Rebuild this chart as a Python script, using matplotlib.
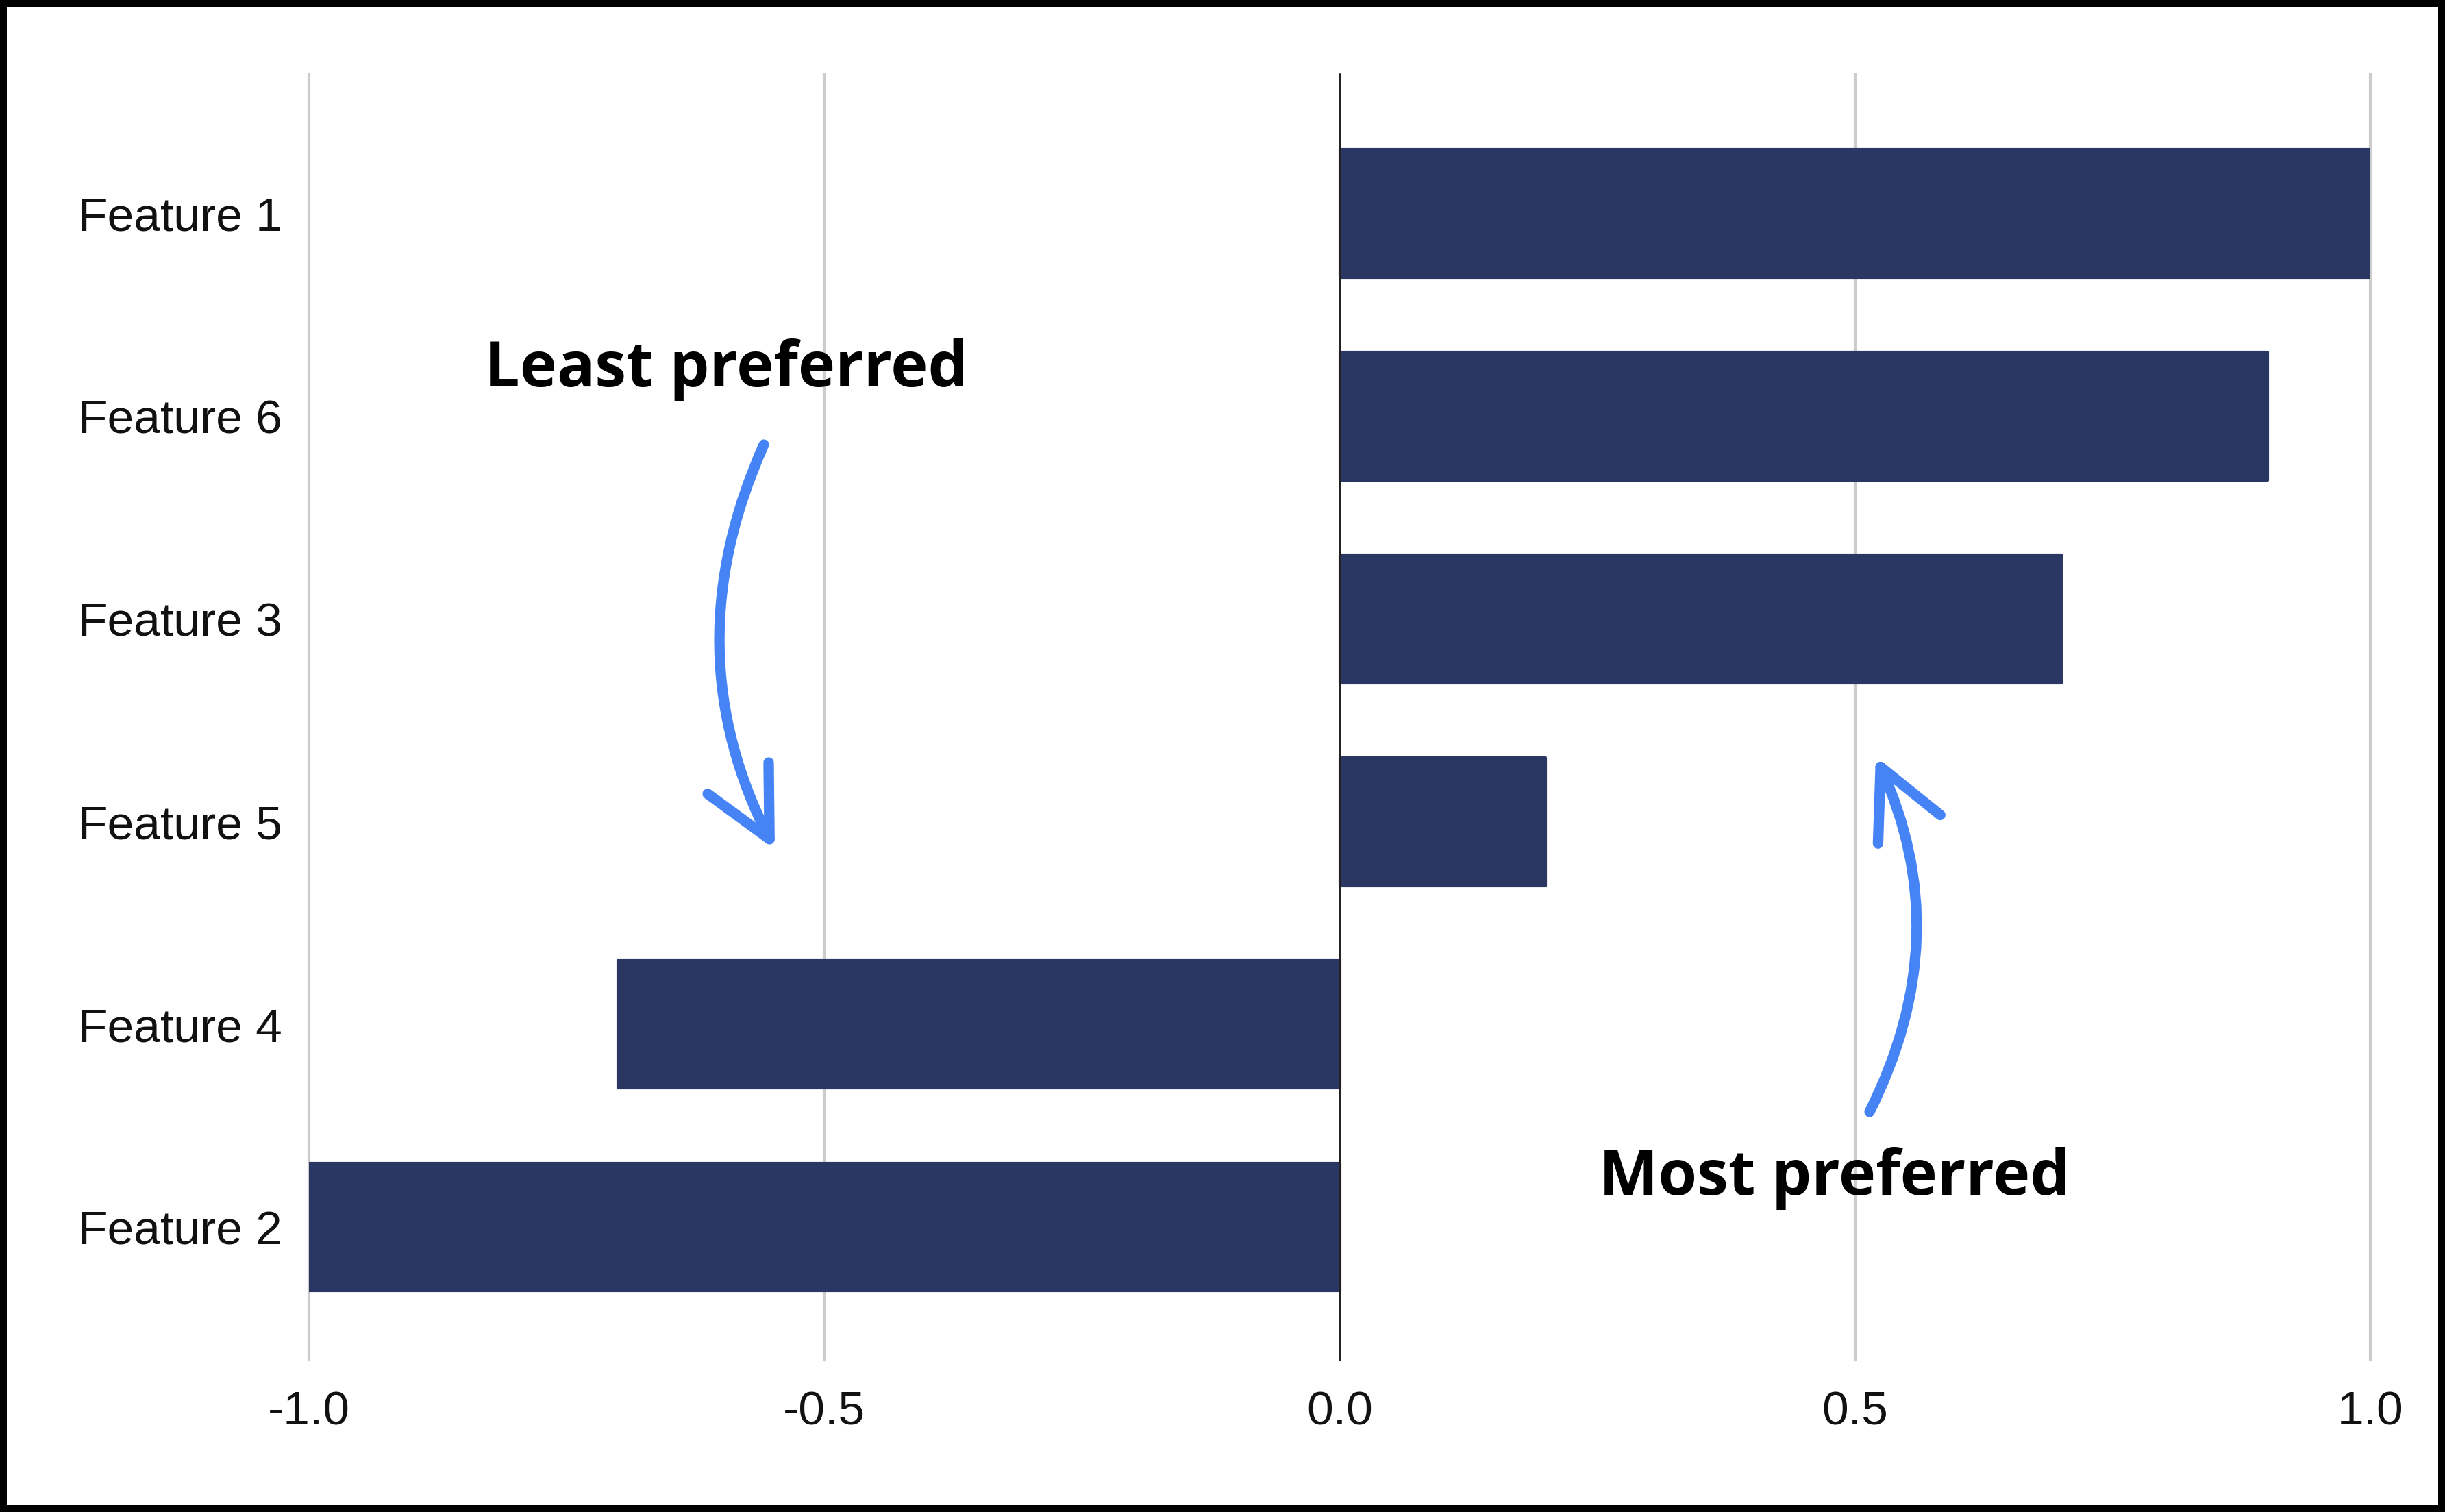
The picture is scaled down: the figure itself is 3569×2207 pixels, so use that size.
import matplotlib
matplotlib.use("Agg")
import matplotlib.pyplot as plt
from matplotlib.patches import Rectangle, FancyArrowPatch

# Data
features = ["Feature 1", "Feature 6", "Feature 3", "Feature 5", "Feature 4", "Feature 2"]
values = [1.0, 0.9, 0.7, 0.2, -0.7, -1.0]
x_ticks = [-1.0, -0.5, 0.0, 0.5, 1.0]
x_tick_labels = ["-1.0", "-0.5", "0.0", "0.5", "1.0"]

BAR_COLOR = "#2B3763"
ARROW_COLOR = "#4683F5"
GRID_COLOR = "#CCCCCC"

W, H = 3569, 2207
fig = plt.figure(figsize=(W / 100, H / 100), dpi=100)
fig.patch.set_facecolor("white")

left, right = 451 / W, 3460 / W
top, bottom = 1 - 109 / H, 1 - 1985 / H
ax = fig.add_axes([left, bottom, right - left, top - bottom])

ypos = list(range(len(features)))
ax.barh(ypos, values, height=0.63, color=BAR_COLOR, edgecolor=BAR_COLOR,
        linewidth=3, joinstyle="round", zorder=3)

ax.set_xlim(-1.0, 1.0)
ax.set_ylim(5.655, -0.685)

ax.set_yticks(ypos)
ax.set_yticklabels(features)
ax.set_xticks(x_ticks)
ax.set_xticklabels(x_tick_labels)

for t in ax.get_yticklabels() + ax.get_xticklabels():
    t.set_fontfamily("Liberation Sans")
    t.set_fontsize(50)
    t.set_color("#111111")

ax.tick_params(axis="y", length=0, pad=28)
ax.tick_params(axis="x", length=0, pad=32)

for s in ax.spines.values():
    s.set_visible(False)

# gridlines
for xv in x_ticks:
    if xv == 0.0:
        continue
    ax.axvline(xv, color=GRID_COLOR, lw=3, zorder=1, clip_on=False)
ax.axvline(0.0, color="#222222", lw=2.6, zorder=4, clip_on=False)

# annotations
fig.text(1060 / W, 1 - 540 / H, "Least preferred", fontfamily="Open Sans",
         fontweight="bold", fontsize=66, ha="center", va="center", color="black")
fig.text(2678 / W, 1 - 1720 / H, "Most preferred", fontfamily="Open Sans",
         fontweight="bold", fontsize=66, ha="center", va="center", color="black")

arrow_style = "->,head_length=0.9,head_width=0.45"
fig.add_artist(FancyArrowPatch(
    (1115 / W, 1 - 649 / H), (1131 / W, 1 - 1240 / H), transform=fig.transFigure,
    arrowstyle=arrow_style, connectionstyle="arc3,rad=0.24", mutation_scale=80,
    lw=11, color=ARROW_COLOR, shrinkA=0, shrinkB=0, capstyle="round", joinstyle="round"))
fig.add_artist(FancyArrowPatch(
    (2729 / W, 1 - 1623 / H), (2738 / W, 1 - 1104 / H), transform=fig.transFigure,
    arrowstyle=arrow_style, connectionstyle="arc3,rad=0.24", mutation_scale=80,
    lw=11, color=ARROW_COLOR, shrinkA=0, shrinkB=0, capstyle="round", joinstyle="round"))

# black frame
fig.add_artist(Rectangle((0, 0), 1, 1, transform=fig.transFigure, fill=False,
                         edgecolor="black", lw=14.4, clip_on=False))

fig.savefig("out.png", dpi=100, facecolor="white")
